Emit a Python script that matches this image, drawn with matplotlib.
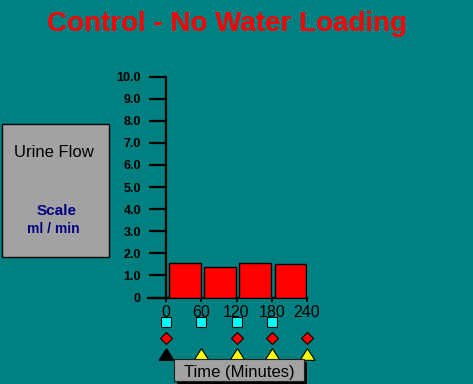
import matplotlib
matplotlib.use("Agg")
import matplotlib.pyplot as plt
from matplotlib.patches import Rectangle

plt.rcParams['font.family'] = ['Liberation Sans', 'DejaVu Sans']

# ---- data ----
times = [0, 60, 120, 180, 240]
time_labels = ['0', '60', '120', '180', '240']
bar_starts = [0, 60, 120, 180]
urine_flow = [1.55, 1.4, 1.55, 1.5]
y_ticks = [0, 1, 2, 3, 4, 5, 6, 7, 8, 9, 10]
y_tick_labels = ['0', '1.0', '2.0', '3.0', '4.0', '5.0', '6.0', '7.0', '8.0', '9.0', '10.0']
square_times = [0, 60, 120, 180]
diamond_times = [0, 120, 180, 240]
triangle_black_times = [0]
triangle_yellow_times = [60, 120, 180, 240]

W, H = 473, 384
BG = '#008080'
fig = plt.figure(figsize=(W / 100, H / 100), dpi=100, facecolor=BG)

def fx(x):
    return x / W

def fy(y):
    return 1 - y / H

# main axes (pixel extents)
left_px, right_px, top_px, bot_px = 148, 307, 76.5, 297.5
ax = fig.add_axes([fx(left_px), fy(bot_px), fx(right_px - left_px), (bot_px - top_px) / H])
ax.set_facecolor('none')
ppu = (307 - 166) / 240.0
ax.set_xlim(-(166 - 148) / ppu, 240)
ax.set_ylim(0, 10)

for s in ['top', 'right']:
    ax.spines[s].set_visible(False)
ax.spines['left'].set_position(('data', 0))
ax.spines['left'].set_linewidth(1.6)
ax.spines['bottom'].set_linewidth(1.6)

ax.bar([b + 32 for b in bar_starts], urine_flow, width=54, color='#FF0000',
       edgecolor='black', linewidth=1.0, zorder=3)

ax.set_yticks(y_ticks)
ax.set_yticklabels(y_tick_labels, fontsize=9, fontweight='bold')
ax.tick_params(axis='y', direction='out', length=12.5, width=1.6, pad=5.5, colors='black')
ax.set_xticks(times)
ax.set_xticklabels(time_labels, fontsize=11.5)
ax.tick_params(axis='x', direction='out', length=3, width=1.2, pad=2.5, colors='black')

# marker rows below axis (data coords, unclipped)
y_sq, y_di, y_tri = -1.11, -1.83, -2.55
ax.plot(square_times, [y_sq] * len(square_times), linestyle='none', marker='s',
        markersize=7.3, markerfacecolor='#00FFFF', markeredgecolor='black',
        markeredgewidth=0.8, clip_on=False)
ax.plot(diamond_times, [y_di] * len(diamond_times), linestyle='none', marker='D',
        markersize=5.8, markerfacecolor='#FF0000', markeredgecolor='black',
        markeredgewidth=0.8, clip_on=False)
tri = [(-1, -0.78), (1, -0.78), (0, 0.78), (-1, -0.78)]
ax.plot(triangle_black_times, [y_tri] * len(triangle_black_times), linestyle='none',
        marker=tri, markersize=10.8, markerfacecolor='black', markeredgecolor='black',
        markeredgewidth=0.8, clip_on=False)
ax.plot(triangle_yellow_times, [y_tri] * len(triangle_yellow_times), linestyle='none',
        marker=tri, markersize=10.8, markerfacecolor='#FFFF00', markeredgecolor='black',
        markeredgewidth=0.8, clip_on=False)

# title
fig.text(fx(227), fy(31), 'Control - No Water Loading', color='#FF0000',
         fontsize=20, fontweight='bold', ha='center', va='baseline')

# left box
fig.patches.append(Rectangle((fx(2), fy(257)), fx(107), (257 - 124) / H,
                             transform=fig.transFigure, facecolor='#A2A2A2',
                             edgecolor='black', linewidth=1.0))
fig.text(fx(54), fy(157), 'Urine Flow', fontsize=12, color='black',
         ha='center', va='baseline')
fig.text(fx(57), fy(215), 'Scale', fontsize=11, fontweight='bold', color='#000080',
         ha='center', va='baseline')
fig.text(fx(53), fy(233), 'ml / min', fontsize=10, fontweight='bold', color='#000080',
         ha='center', va='baseline')

# time label box with shadow
fig.patches.append(Rectangle((fx(177), fy(384)), fx(130), (384 - 362) / H,
                             transform=fig.transFigure, facecolor='black',
                             edgecolor='none'))
fig.patches.append(Rectangle((fx(174), fy(381)), fx(130), (381 - 359) / H,
                             transform=fig.transFigure, facecolor='#A2A2A2',
                             edgecolor='#202020', linewidth=0.8))
fig.text(fx(239), fy(377), 'Time (Minutes)', fontsize=12, color='black',
         ha='center', va='baseline')

fig.savefig('out.png', dpi=100, facecolor=BG)
